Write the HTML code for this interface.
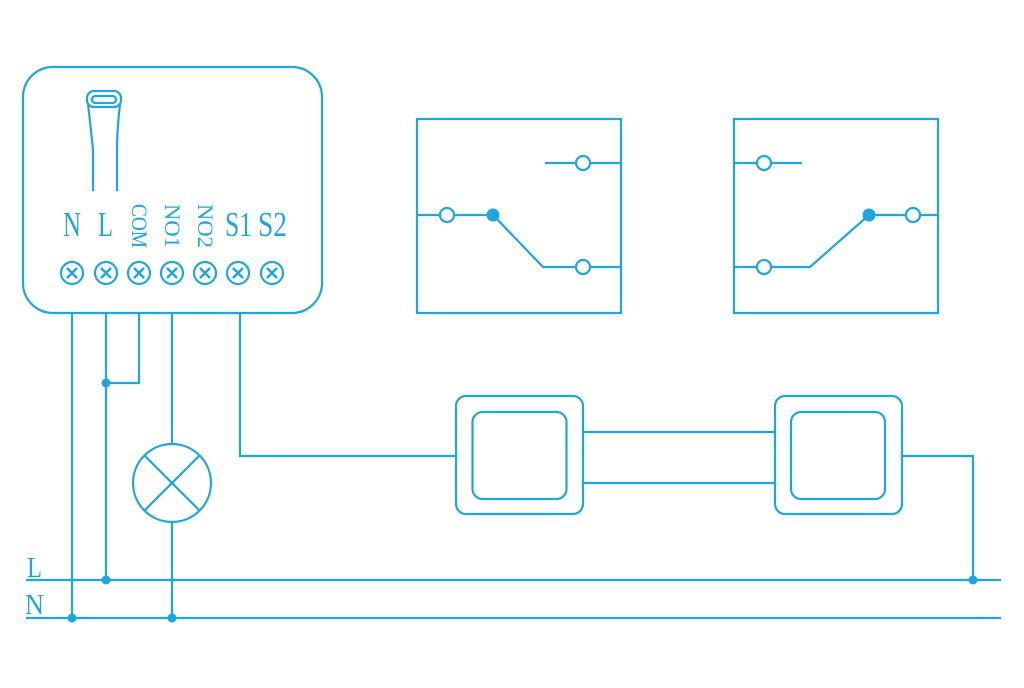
<!DOCTYPE html>
<html><head><style>body{margin:0;background:#fff}svg{display:block}</style></head><body>
<svg width="1024" height="688" viewBox="0 0 1024 688" xmlns="http://www.w3.org/2000/svg">
<g fill="none" stroke="#1ea6e2" stroke-width="2.2">
<rect x="23" y="67" width="299" height="246" rx="30"/>
<rect x="87" y="91" width="34" height="16" rx="7"/>
<rect x="92" y="96" width="24" height="7" rx="3.5"/>
<path d="M88 104 Q91 130 93 150 V191 M120 104 Q117 130 117 150 V191"/>
<circle cx="72" cy="273" r="11"/><circle cx="106" cy="273" r="11"/><circle cx="139" cy="273" r="11"/><circle cx="172" cy="273" r="11"/><circle cx="205" cy="273" r="11"/><circle cx="238" cy="273" r="11"/><circle cx="272" cy="273" r="11"/>
<path stroke-width="2.5" d="M67 268l10 10M77 268l-10 10M101 268l10 10M111 268l-10 10M134 268l10 10M144 268l-10 10M167 268l10 10M177 268l-10 10M200 268l10 10M210 268l-10 10M233 268l10 10M243 268l-10 10M267 268l10 10M277 268l-10 10"/>
<path d="M72 313V618M106 313V580M139 313V383H106M172 313V444M172 522V618M240 313V456H456"/>
<circle cx="172" cy="483" r="39"/>
<path d="M144 455L200 511M200 455L144 511"/>
<path d="M26 580H1001M26 618H1001"/>
<rect x="456" y="396" width="127" height="118" rx="10"/>
<rect x="472.5" y="412" width="94" height="87" rx="10"/>
<rect x="775" y="396" width="127" height="118" rx="10"/>
<rect x="791" y="412" width="94" height="87" rx="10"/>
<path d="M583 432H775M583 483H775M902 456H973V580"/>
<rect x="417" y="119" width="204" height="194"/>
<rect x="734" y="119" width="204" height="194"/>
<path d="M417 215H440M454 215H493L543 267H576M590 267H621M545 163H576M590 163H621"/>
<circle cx="447" cy="215" r="7"/><circle cx="583" cy="267" r="7"/><circle cx="583" cy="163" r="7"/>
<path d="M734 163H757M771 163H802M734 267H757M771 267H810L869 215H906M920 215H938"/>
<circle cx="764" cy="163" r="7"/><circle cx="764" cy="267" r="7"/><circle cx="913" cy="215" r="7"/>
</g>
<g fill="#1ea6e2">
<circle cx="493" cy="215" r="6.5"/><circle cx="869" cy="215" r="6.5"/>
<circle cx="106" cy="383" r="4.5"/><circle cx="106" cy="580" r="4.5"/><circle cx="72" cy="618" r="4.5"/><circle cx="172" cy="618" r="4.5"/><circle cx="973" cy="580" r="4.5"/>
</g>
<g fill="#1ea6e2" font-family="Liberation Serif, serif">
<g font-size="35">
<text x="63" y="236" textLength="18" lengthAdjust="spacingAndGlyphs">N</text>
<text x="98" y="236" textLength="15" lengthAdjust="spacingAndGlyphs">L</text>
<text x="225" y="236" textLength="27" lengthAdjust="spacingAndGlyphs">S1</text>
<text x="258" y="236" textLength="29" lengthAdjust="spacingAndGlyphs">S2</text>
</g>
<g font-size="22">
<text transform="translate(132,204) rotate(90)" textLength="44" lengthAdjust="spacingAndGlyphs">COM</text>
<text transform="translate(165,204) rotate(90)" textLength="44" lengthAdjust="spacingAndGlyphs">NO1</text>
<text transform="translate(198,204) rotate(90)" textLength="44" lengthAdjust="spacingAndGlyphs">NO2</text>
</g>
<text x="27" y="577" font-size="29" textLength="15" lengthAdjust="spacingAndGlyphs">L</text>
<text x="25" y="614" font-size="29" textLength="19" lengthAdjust="spacingAndGlyphs">N</text>
</g>
</svg>
</body></html>
